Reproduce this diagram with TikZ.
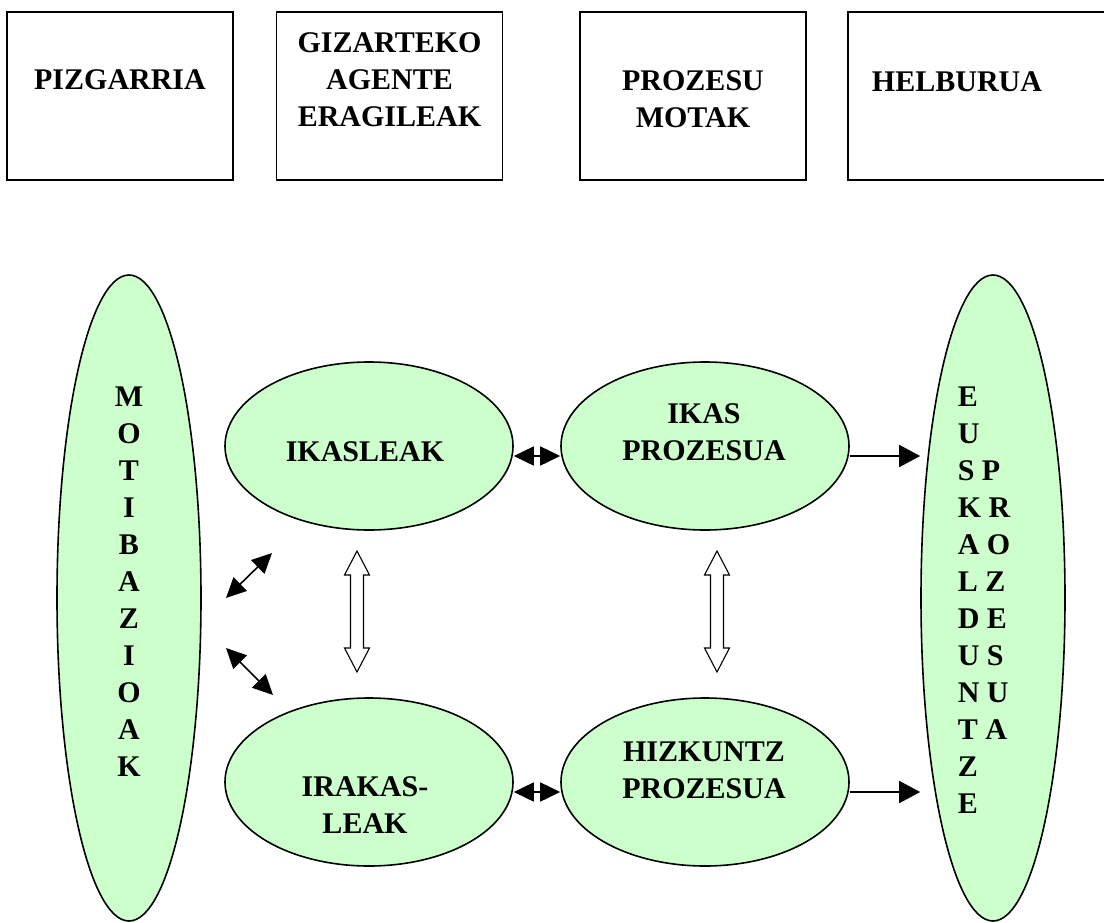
\documentclass[tikz,border=0pt]{standalone}
\usepackage{fontspec}
\setmainfont{Liberation Serif}
\usepackage{tikz}
\usetikzlibrary{shapes.geometric,arrows.meta}
\definecolor{palegreen}{RGB}{204,255,204}

\begin{document}
\begin{tikzpicture}[x=1pt,y=-1pt,line width=1.6pt,
  topbox/.style={draw,rectangle,minimum width=226pt,minimum height=168pt,inner sep=0pt},
  blob/.style={draw,ellipse,fill=palegreen,inner sep=0pt},
  bigblob/.style={blob,minimum width=144pt,minimum height=646pt},
  smallblob/.style={blob,minimum width=288pt,minimum height=168pt},
  word/.style={font=\bfseries\fontsize{30}{37}\selectfont,align=center,inner sep=0pt},
  tip/.style={-{Triangle[length=21pt,width=22pt]}},
  bitip/.style={{Triangle[length=20pt,width=19pt]}-{Triangle[length=20pt,width=19pt]}},
  smalltip/.style={{Triangle[length=20pt,width=19pt]}-{Triangle[length=20pt,width=19pt]}},
  hollow/.style={draw,fill=white,line width=1.1pt,line join=miter}]
  \useasboundingbox (0,0) rectangle (1104,922);
  \node[topbox] (pizBox) at (120,96) {};
  \node[word] (pizText) at (120,80) {PIZGARRIA};
  \node[topbox] (gizBox) at (389.5,96) {};
  \node[word] (gizText) at (389.5,80) {GIZARTEKO\\AGENTE\\ERAGILEAK};
  \node[topbox] (prozBox) at (693,96) {};
  \node[word] (prozText) at (693,99.5) {PROZESU\\MOTAK};
  \node[topbox,minimum width=272pt] (helBox) at (984,96) {};
  \node[word] (helText) at (957,82) {HELBURUA};

  \node[bigblob] (motib) at (129,598) {};
  \node[word] (motibText) at (129,582) {M\\O\\T\\I\\B\\A\\Z\\I\\O\\A\\K};
  \node[bigblob] (euskal) at (993,598) {};
  \node[word,align=left,anchor=west] (euskalText) at (957,600.5)
    {E\\U\\S P\\K R\\A O\\L Z\\D E\\U S\\N U\\T A\\Z\\E};

  \node[smallblob] (ikasleak) at (369,446) {};
  \node[word] (ikasleakText) at (365,452) {IKASLEAK};
  \node[smallblob] (ikasProz) at (705,446) {};
  \node[word] (ikasProzText) at (704,432.5) {IKAS\\PROZESUA};
  \node[smallblob] (irakasleak) at (369,782) {};
  \node[word] (irakasleakText) at (365,805.5) {IRAKAS-\\LEAK};
  \node[smallblob] (hizkProz) at (705,782) {};
  \node[word] (hizkProzText) at (704,770.5) {HIZKUNTZ\\PROZESUA};

  \draw[bitip] ([yshift=-10pt]ikasleak.east) -- ([yshift=-10pt]ikasProz.west);
  \draw[bitip] ([yshift=-10pt]irakasleak.east) -- ([yshift=-10pt]hizkProz.west);
  \draw[tip] ([yshift=-10pt]ikasProz.east) -- ([yshift=-10pt]ikasProz.east -| euskal.west);
  \draw[tip] ([yshift=-10pt]hizkProz.east) -- ([yshift=-10pt]hizkProz.east -| euskal.west);

  \coordinate (motibUp) at (226,598);
  \coordinate (ikasleakLow) at (272,553);
  \draw[smalltip] (motibUp) -- (ikasleakLow);
  \coordinate (motibLow) at (226,648);
  \coordinate (irakasleakUp) at (273,695);
  \draw[smalltip] (motibLow) -- (irakasleakUp);

  \coordinate (leftTop) at (357,551);
  \coordinate (leftBot) at (357,672);
  \draw[hollow] (leftTop) -- ++(12.5,24) -- ++(-6,0) -- ++(0,73) -- ++(6,0) -- (leftBot)
    -- ++(-12.5,-24) -- ++(6,0) -- ++(0,-73) -- ++(-6,0) -- cycle;
  \coordinate (rightTop) at (717,551);
  \coordinate (rightBot) at (717,672);
  \draw[hollow] (rightTop) -- ++(12.5,24) -- ++(-6,0) -- ++(0,73) -- ++(6,0) -- (rightBot)
    -- ++(-12.5,-24) -- ++(6,0) -- ++(0,-73) -- ++(-6,0) -- cycle;
\end{tikzpicture}
\end{document}
